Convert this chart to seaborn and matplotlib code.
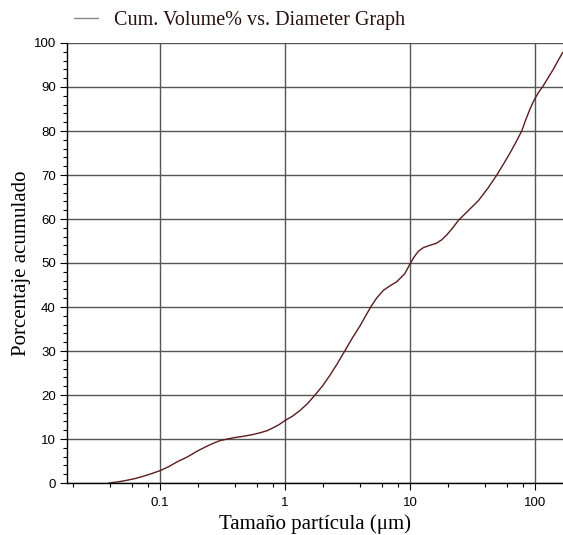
import numpy as np
import pandas as pd
import seaborn as sns
import matplotlib
matplotlib.use("Agg")
import matplotlib.pyplot as plt
from matplotlib.ticker import LogLocator, MultipleLocator, NullFormatter
from matplotlib.lines import Line2D

# ---- data ----
diameter_um = [0.039, 0.046, 0.054, 0.063, 0.073, 0.085, 0.1, 0.117, 0.137, 0.165,
               0.2, 0.235, 0.27, 0.30, 0.34, 0.40, 0.46, 0.54, 0.63, 0.72, 0.81,
               0.90, 1.0, 1.15, 1.32, 1.52, 1.74, 2.0, 2.29, 2.63, 3.02, 3.43,
               3.98, 4.4, 4.85, 5.4, 6.13, 6.9, 7.8, 9.1, 10.0, 10.8, 11.7,
               12.8, 14.0, 16.3, 18.0, 19.7, 22.0, 24.4, 29.5, 35.3, 42.0, 49.5,
               56.0, 63.1, 70.5, 78.3, 85.0, 91.2, 96.0, 101.0, 108.0, 116.6,
               128.0, 140.0, 153.0, 167.0]
cum_volume = [0.0, 0.25, 0.6, 1.0, 1.5, 2.1, 2.8, 3.7, 4.8, 5.9,
              7.3, 8.3, 9.1, 9.6, 9.95, 10.35, 10.6, 10.95, 11.4, 11.9, 12.6,
              13.3, 14.2, 15.2, 16.5, 18.1, 20.0, 22.1, 24.5, 27.2, 30.1, 32.8,
              35.7, 37.9, 40.0, 42.0, 43.8, 44.8, 45.7, 47.6, 49.8, 51.4, 52.7,
              53.5, 53.9, 54.5, 55.3, 56.4, 58.0, 59.7, 62.0, 64.2, 67.0, 70.0,
              72.5, 75.0, 77.5, 80.0, 82.8, 85.0, 86.4, 87.6, 89.0, 90.3,
              92.2, 94.0, 96.0, 97.9]
x_ticks = [0.1, 1, 10, 100]
x_tick_labels = ["0.1", "1", "10", "100"]
y_ticks = list(range(0, 101, 10))
legend_label = "Cum. Volume% vs. Diameter Graph"
x_label = "Tamaño partícula (μm)"
y_label = "Porcentaje acumulado"

df = pd.DataFrame({"d": diameter_um, "cum": cum_volume})

sns.set_theme(style="white")
plt.rcParams["font.family"] = ["Liberation Sans", "DejaVu Sans"]

fig = plt.figure(figsize=(5.63, 5.35), dpi=100)
ax = fig.add_axes([67 / 563, 1 - 483 / 535, 1 - 67 / 563, (483 - 43) / 535])

line_color = "#5a1c1c"
sns.lineplot(data=df, x="d", y="cum", ax=ax, color=line_color, linewidth=1.0,
             sort=False, estimator=None)

ax.set_xscale("log")
ax.set_xlim(0.01803, 167.5)
ax.set_ylim(0, 100)

ax.set_xticks(x_ticks, labels=x_tick_labels)
ax.xaxis.set_minor_locator(LogLocator(base=10, subs=(2, 4, 6, 8), numticks=20))
ax.xaxis.set_minor_formatter(NullFormatter())
ax.set_yticks(y_ticks)
ax.yaxis.set_minor_locator(MultipleLocator(2))

ax.tick_params(axis="both", which="major", direction="out", length=5, width=0.8,
               color="black", labelsize=9.5, labelcolor="black", pad=3,
               bottom=True, left=True)
ax.tick_params(axis="both", which="minor", direction="out", length=3, width=0.8,
               color="black", bottom=True, left=True)
ax.tick_params(axis="x", which="major", pad=5)

ax.grid(True, which="major", color="#555555", linewidth=1.0)
ax.grid(False, which="minor")
ax.set_axisbelow(True)

for s in ["top", "right"]:
    ax.spines[s].set_visible(False)
for s in ["left", "bottom"]:
    ax.spines[s].set_color("black")
    ax.spines[s].set_linewidth(1.0)

ax.set_xlabel(x_label, family="Liberation Serif", fontsize=15, color="black", labelpad=4)
ax.set_ylabel(y_label, family="Liberation Serif", fontsize=15, color="black", labelpad=2)

handle = Line2D([], [], color="#8a8a8a", linewidth=1.0)
leg = fig.legend([handle], [legend_label], loc="center left",
                 bbox_to_anchor=(66 / 563, 1 - 20 / 535), frameon=False,
                 prop={"family": "Liberation Serif", "size": 14.5},
                 handlelength=1.2, handletextpad=0.8, borderaxespad=0)
for t in leg.get_texts():
    t.set_color("#2a1010")

fig.savefig("out.png", dpi=100)
